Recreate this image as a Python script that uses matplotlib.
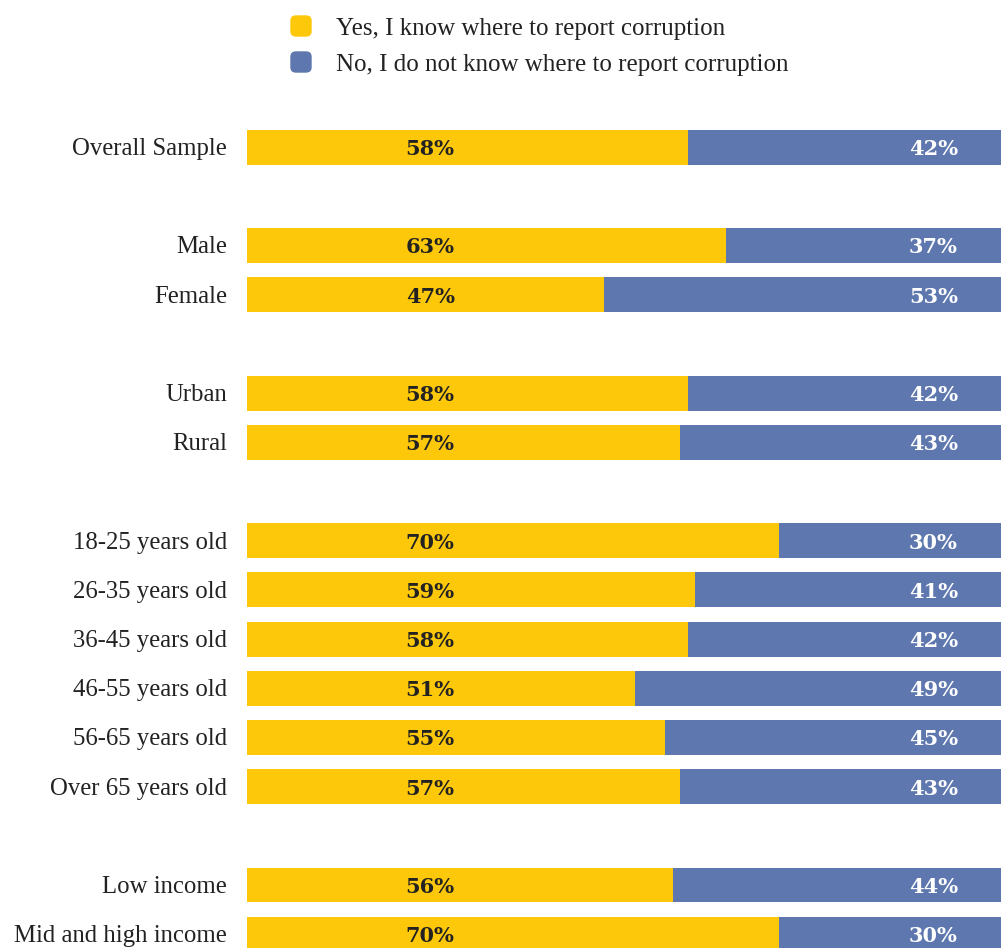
import matplotlib
matplotlib.use("Agg")
import matplotlib.pyplot as plt
from matplotlib.patches import FancyBboxPatch

categories = ["Overall Sample", "Male", "Female", "Urban", "Rural",
              "18-25 years old", "26-35 years old", "36-45 years old",
              "46-55 years old", "56-65 years old", "Over 65 years old",
              "Low income", "Mid and high income"]
rows = [0, 2, 3, 5, 6, 8, 9, 10, 11, 12, 13, 15, 16]   # blank rows separate the groups
yes = [58, 63, 47, 58, 57, 70, 59, 58, 51, 55, 57, 56, 70]
no = [42, 37, 53, 42, 43, 30, 41, 42, 49, 45, 43, 44, 30]

yellow = "#fdc80a"
blue = "#5e78af"
ink = "#222222"
font = "Liberation Serif"

fig = plt.figure(figsize=(10.01, 9.48), dpi=100)
# bars run slightly past the right edge of the figure
ax = fig.add_axes([247 / 1001, 0, 760 / 1001, 1])

ax.barh(rows, yes, height=0.71, color=yellow)
ax.barh(rows, no, left=yes, height=0.71, color=blue)

base = 0.16  # baseline offset below bar centre, in rows
for r, cat, y, n in zip(rows, categories, yes, no):
    ax.text(-2.63, r + base, cat, ha="right", va="baseline", fontsize=17.8,
            color=ink, family=font, clip_on=False)
    ax.text(24.1, r + base, f"{y}%", ha="center", va="baseline", fontsize=15,
            fontweight="bold", color=ink, family="DejaVu Serif")
    ax.text(90.3, r + base, f"{n}%", ha="center", va="baseline", fontsize=15,
            fontweight="bold", color="white", family="DejaVu Serif")

ax.set_xlim(0, 100)
ax.set_ylim(16.28, -2.99)
ax.set_xticks([])
ax.set_yticks([])
for s in ax.spines.values():
    s.set_visible(False)

# legend with rounded swatches
legend = [("Yes, I know where to report corruption", yellow, 26, 35),
          ("No, I do not know where to report corruption", blue, 62, 71)]
for label, c, ypx, basepx in legend:
    fig.patches.append(FancyBboxPatch((291 / 1001, 1 - (ypx + 10) / 948),
                                      20 / 1001, 20 / 948,
                                      boxstyle="round,pad=0,rounding_size=0.005",
                                      transform=fig.transFigure, color=c))
    fig.text(336 / 1001, 1 - basepx / 948, label, ha="left", va="baseline",
             fontsize=18, color=ink, family=font)

fig.savefig("out.png", dpi=100)
